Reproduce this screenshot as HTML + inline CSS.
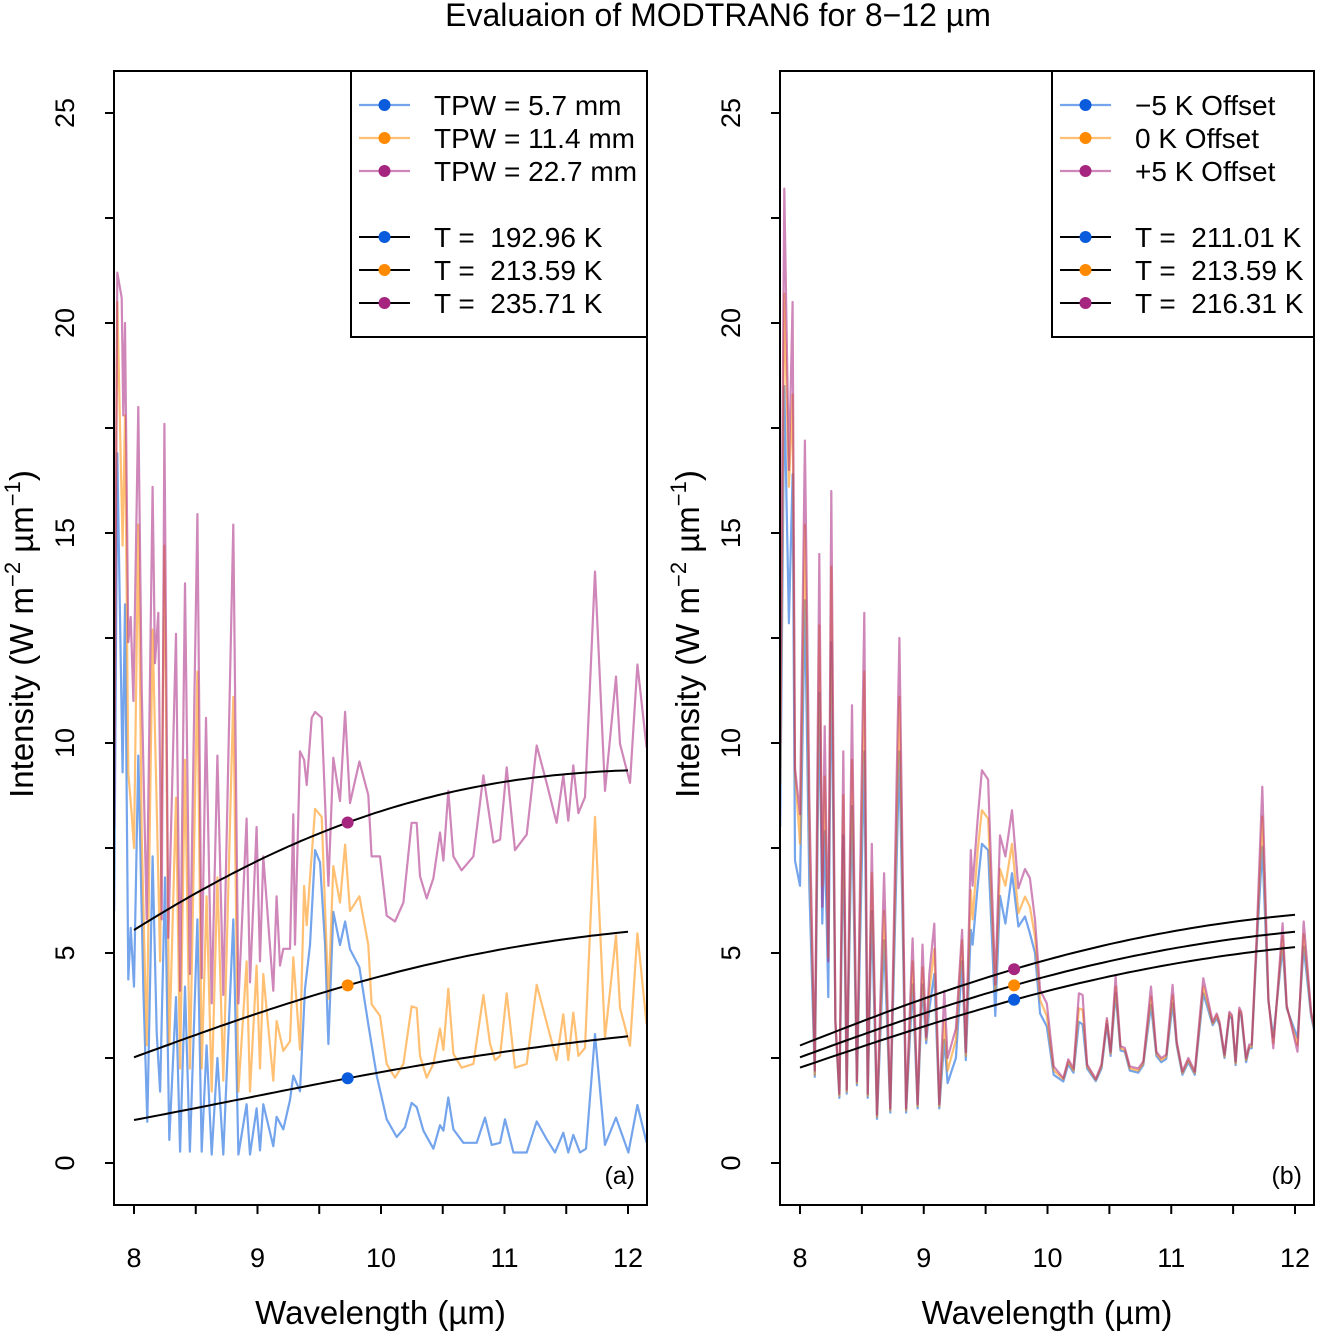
<!DOCTYPE html>
<html><head><meta charset="utf-8">
<style>
html,body{margin:0;padding:0;background:#fff;}
svg{display:block;font-family:"Liberation Sans",Arial,sans-serif;}
</style></head>
<body>
<svg id="chart" width="1317" height="1333" viewBox="0 0 1317 1333" xmlns="http://www.w3.org/2000/svg">
<text x="718" y="26" font-size="32" text-anchor="middle">Evaluaion of MODTRAN6 for 8−12 µm</text>
<defs>
<clipPath id="clipA"><rect x="114" y="71" width="533" height="1134"/></clipPath>
<clipPath id="clipB"><rect x="780" y="71" width="534" height="1134"/></clipPath>
</defs>
<g id="panelA"></g>
<g id="panelB"></g>
</svg>
<script>
// ---- Panel (a) data ----
const wlA_blue = [7.84,7.865,7.908,7.927,7.954,7.973,8.0,8.035,8.076,8.108,8.151,8.184,8.211,8.251,8.286,8.34,8.373,8.413,8.453,8.513,8.548,8.588,8.629,8.675,8.723,8.804,8.845,8.912,8.939,8.993,9.02,9.047,9.128,9.155,9.209,9.263,9.29,9.344,9.385,9.425,9.466,9.506,9.547,9.574,9.614,9.668,9.709,9.749,9.825,9.897,9.965,10.046,10.127,10.194,10.248,10.289,10.343,10.424,10.478,10.505,10.545,10.586,10.667,10.775,10.842,10.896,10.964,11.004,11.072,11.18,11.261,11.341,11.409,11.476,11.517,11.557,11.611,11.66,11.733,11.814,11.903,12.003,12.076,12.151];
const valA_blue = [6,16.9,9.3,13.3,4.37,5.6,4.2,9.7,4.1,0.98,7.3,3.1,1.7,6.8,0.55,3.95,0.27,4.2,0.27,5.8,0.27,2.8,0.2,2.5,0.2,5.8,0.2,1.4,0.2,1.3,0.3,1.4,0.4,1.1,0.8,1.5,2.08,1.71,4.15,5.19,7.45,7.16,5.19,2.83,5.98,5.19,5.75,5.09,4.66,3.3,2.08,1.04,0.62,0.85,1.43,1.33,0.77,0.34,0.9,0.77,1.56,0.8,0.48,0.48,1.08,0.43,0.48,1.04,0.25,0.25,0.99,0.57,0.25,0.72,0.25,0.67,0.25,0.34,3.07,0.43,1.08,0.25,1.38,0.48];
const wlA_orange = [7.84,7.865,7.908,7.927,7.954,7.981,8.0,8.035,8.062,8.103,8.151,8.184,8.211,8.246,8.286,8.34,8.373,8.413,8.453,8.513,8.548,8.588,8.629,8.675,8.723,8.804,8.845,8.912,8.939,8.993,9.02,9.047,9.128,9.155,9.209,9.263,9.29,9.344,9.377,9.398,9.425,9.466,9.52,9.574,9.614,9.668,9.709,9.749,9.825,9.897,9.924,9.992,10.046,10.113,10.181,10.248,10.289,10.316,10.37,10.424,10.478,10.505,10.545,10.586,10.653,10.748,10.829,10.883,10.923,10.964,11.018,11.085,11.18,11.261,11.341,11.422,11.476,11.517,11.557,11.598,11.652,11.733,11.814,11.903,11.935,12.016,12.076,12.151];
const valA_orange = [10,20.5,14.7,17.8,9.3,8.3,7.5,15.2,7.8,2.8,12.7,8.5,4.8,14.7,2.8,8.7,2.25,9.6,2.25,11.7,2.25,6.35,1.7,6.8,1.96,11.1,1.7,4.8,1.7,4.7,2.25,4.5,1.96,3.38,2.67,2.9,4.9,2.7,6.6,5.66,6.78,8.43,8.24,3.91,7.07,6.2,7.58,6.0,6.35,5.19,3.78,3.5,2.36,2.03,2.36,3.73,3.69,2.55,2.03,2.36,3.2,2.69,4.15,2.6,2.27,2.36,4.0,2.83,2.45,2.55,4.04,2.27,2.36,4.24,3.35,2.45,3.54,2.45,3.58,2.55,2.74,8.24,2.98,5.42,3.69,2.79,5.47,3.3];
const wlA_pink = [7.84,7.865,7.9,7.913,7.927,7.954,7.973,7.995,8.035,8.062,8.103,8.151,8.17,8.197,8.224,8.246,8.278,8.34,8.373,8.413,8.453,8.513,8.548,8.583,8.629,8.675,8.723,8.804,8.845,8.912,8.939,8.993,9.02,9.047,9.128,9.155,9.182,9.209,9.263,9.29,9.304,9.344,9.377,9.398,9.439,9.466,9.52,9.574,9.614,9.668,9.709,9.749,9.825,9.897,9.924,9.992,10.046,10.113,10.181,10.248,10.289,10.316,10.37,10.424,10.478,10.505,10.545,10.586,10.653,10.748,10.829,10.883,10.91,10.964,11.018,11.085,11.18,11.261,11.341,11.422,11.476,11.517,11.557,11.598,11.652,11.733,11.814,11.903,11.935,12.016,12.076,12.151];
const valA_pink = [8,21.2,20.6,17.8,20.0,12.4,13.0,11.0,18.0,11.3,5.8,16.1,11.9,13.1,5.8,17.6,5.36,12.6,4.1,13.8,4.5,15.45,4.4,10.6,3.8,9.7,4.0,15.2,3.8,8.2,4.3,8.0,4.8,7.3,4.1,6.35,4.7,5.1,5.1,8.3,5.2,9.8,9.6,9.0,10.6,10.74,10.6,6.6,9.65,8.62,10.74,8.57,9.56,8.76,7.3,7.3,5.89,5.75,6.2,8.1,8.1,6.83,6.3,6.78,7.87,7.2,8.86,7.3,6.97,7.3,9.23,8.15,7.63,7.7,9.42,7.45,7.82,9.94,9.05,8.1,9.23,8.15,9.47,8.33,8.71,14.08,8.86,11.58,9.98,9.05,11.87,9.89];
const tempsA = [192.96,213.59,235.71];
const legendA = ["TPW = 5.7 mm","TPW = 11.4 mm","TPW = 22.7 mm"];

// ---- Panel (b) data ----
const wlB = [7.84,7.873,7.91,7.94,7.96,8.0,8.04,8.075,8.12,8.156,8.18,8.2,8.229,8.253,8.286,8.318,8.35,8.377,8.42,8.46,8.52,8.547,8.58,8.622,8.68,8.73,8.803,8.857,8.91,8.95,8.99,9.02,9.045,9.085,9.126,9.166,9.193,9.26,9.31,9.34,9.38,9.395,9.436,9.47,9.52,9.578,9.616,9.66,9.713,9.765,9.818,9.858,9.899,9.94,9.994,10.05,10.128,10.168,10.21,10.254,10.284,10.32,10.39,10.436,10.48,10.51,10.55,10.59,10.625,10.665,10.733,10.774,10.836,10.88,10.92,10.96,11.011,11.044,11.09,11.138,11.19,11.259,11.335,11.367,11.39,11.43,11.47,11.49,11.52,11.55,11.566,11.605,11.63,11.65,11.69,11.736,11.785,11.825,11.9,11.933,12.02,12.07,12.13,12.17];
const valB_blue = [8,18.5,12.85,16.4,7.2,6.6,13.4,6.6,2.05,11.2,5.7,7.9,3.95,12.4,3.3,1.55,7.8,1.65,8.5,1.85,9.8,1.55,6.0,1.05,5.3,1.2,9.8,1.2,4.25,1.3,4.25,2.85,3.67,4.5,1.3,2.93,1.9,2.5,4.8,2.45,5.55,5.2,6.6,7.6,7.45,3.5,6.36,5.7,6.9,5.63,5.87,5.47,5.0,3.56,3.25,2.1,1.94,2.35,2.15,3.36,3.3,2.25,1.95,2.25,3.3,2.55,4.04,2.68,2.65,2.2,2.15,2.33,3.76,2.55,2.4,2.48,3.8,2.8,2.1,2.4,2.1,4.04,3.28,3.45,3.28,2.5,3.5,3.43,2.33,3.58,3.5,2.4,2.73,2.73,5.1,7.53,3.85,3.0,5.15,3.68,2.98,5.15,3.5,2.95];
const valB_orange = [9,20.7,16.1,18.3,9.3,7.6,15.2,8.0,2.1,12.8,6.6,9.2,4.9,14.2,3.37,1.6,8.76,1.7,9.6,1.9,11.7,1.6,6.9,1.1,6.0,1.25,11.1,1.25,4.8,1.35,4.66,2.93,4.1,5.1,1.35,3.37,2.2,2.93,5.3,2.55,6.5,5.8,7.45,8.4,8.2,4.1,7.0,6.6,7.6,5.95,6.34,6.1,5.39,3.88,3.5,2.2,2.0,2.42,2.2,3.68,3.65,2.3,1.98,2.3,3.4,2.6,4.2,2.73,2.69,2.25,2.2,2.37,3.96,2.6,2.45,2.53,4.0,2.85,2.14,2.45,2.14,4.2,3.32,3.52,3.32,2.53,3.56,3.48,2.37,3.64,3.56,2.45,2.77,2.77,5.23,8.25,3.88,2.85,5.4,3.72,2.8,5.45,3.56,3.0];
const valB_pink = [10,23.2,16.5,20.5,9.4,8.3,17.2,8.76,2.2,14.5,6.1,10.4,4.8,16.0,3.4,1.65,9.8,1.75,10.9,1.95,13.1,1.65,7.6,1.15,6.9,1.3,12.5,1.3,5.35,1.4,5.2,3.0,4.5,5.7,1.4,4.1,2.5,3.2,5.55,2.64,7.45,6.6,8.2,9.35,9.13,4.25,7.8,7.3,8.4,6.54,7.0,6.78,5.79,4.12,3.8,2.3,2.02,2.47,2.25,4.04,4.0,2.35,2.0,2.35,3.45,2.65,4.44,2.78,2.74,2.3,2.25,2.42,4.2,2.65,2.5,2.58,4.24,2.9,2.18,2.5,2.18,4.4,3.36,3.56,3.36,2.58,3.6,3.52,2.42,3.7,3.6,2.5,2.82,2.82,5.35,8.96,3.92,2.73,5.71,3.76,2.65,5.75,3.6,3.05];
const tempsB = [211.01,213.59,216.31];
const legendB = ["−5 K Offset","0 K Offset","+5 K Offset"];

const yTicks = [0,5,10,15,20,25];
const xTicks = [8,9,10,11,12];
const dotWl = 9.73;

const NS = "http://www.w3.org/2000/svg";
const lineCols = ["rgba(0,90,220,0.55)","rgba(255,140,0,0.55)","rgba(168,34,127,0.55)"];
const dotCols = ["#0a5cdc","#ff8a00","#a5257f"];

function el(tag, attrs, parent){
  const e = document.createElementNS(NS, tag);
  for (const k in attrs) e.setAttribute(k, attrs[k]);
  parent.appendChild(e);
  return e;
}
function planck(lam, T){ return Math.PI * 1.19104e8 / Math.pow(lam,5) / (Math.exp(14387.77/(lam*T)) - 1); }

function drawPanel(g, box, x8, x12, clipId, series, temps, labels, legBox, panelLabel){
  const xS = v => x8 + (v-8)*(x12-x8)/4;
  const yS = v => 1163 - v*42;
  const sg = el('g', {'clip-path':'url(#'+clipId+')'}, g);
  series.forEach((s,i)=>{
    const p = el('polyline', {points: s.wl.map((w,j)=>xS(w).toFixed(1)+','+yS(s.v[j]).toFixed(1)).join(' '), fill:'none', stroke: lineCols[i], 'stroke-width':2.2, 'stroke-linejoin':'round'}, sg);
    
    
  });
  temps.forEach((T,i)=>{
    const pts=[];
    for(let k=0;k<=80;k++){ const l=8+k*4/80; pts.push(xS(l).toFixed(1)+','+yS(planck(l,T)).toFixed(1)); }
    const c = el('polyline', {points: pts.join(' '), fill:'none', stroke:'#000', 'stroke-width':2}, g);
    
    
    const d = el('circle', {cx:xS(dotWl), cy:yS(planck(dotWl,T)), r:6, fill:dotCols[i]}, g);
    
    
  });
  const f = el('rect', {x:box[0], y:box[1], width:box[2]-box[0], height:box[3]-box[1], fill:'none', stroke:'#000', 'stroke-width':2}, g);
  
  
  for(let t=8;t<=12.001;t+=0.5){
    const tk = el('line', {x1:xS(t), x2:xS(t), y1:box[3], y2:box[3]+9, stroke:'#000','stroke-width':2}, g);
    
    
  }
  xTicks.forEach(t=>{
    const tx = el('text', {x:xS(t), y:1267, 'font-size':27, 'text-anchor':'middle'}, g);
    tx.textContent = t;
    
    
  });
  for(let t=0;t<=25;t+=2.5){
    const tk = el('line', {x1:box[0]-9, x2:box[0], y1:yS(t), y2:yS(t), stroke:'#000','stroke-width':2}, g);
    
    
  }
  yTicks.forEach(t=>{
    const tx = el('text', {x:0, y:0, 'font-size':27, 'text-anchor':'middle', transform:'translate('+(box[0]-40)+','+yS(t)+') rotate(-90)'}, g);
    tx.textContent = t;
    
    
  });
  const xt = el('text', {x:(box[0]+box[2])/2, y:1324, 'font-size':33, 'text-anchor':'middle'}, g);
  xt.textContent = 'Wavelength (µm)';
  
  
  const yt = el('text', {x:0, y:0, 'font-size':33, 'text-anchor':'middle', transform:'translate('+(box[0]-81)+',634) rotate(-90)'}, g);
  yt.innerHTML = 'Intensity (W m<tspan dy="-13" font-size="22">−2</tspan><tspan dy="13"> µm</tspan><tspan dy="-13" font-size="22">−1</tspan><tspan dy="13">)</tspan>';
  
  
  const pl = el('text', {x:box[2]-12, y:1184, 'font-size':25, 'text-anchor':'end'}, g);
  pl.textContent = panelLabel;
  
  
  const lg = el('g', {}, g);
  
  
  el('rect', {x:legBox[0], y:71, width:legBox[1]-legBox[0], height:266, fill:'#fff', stroke:'#000','stroke-width':2}, lg);
  const lx1 = legBox[0]+8, lx2 = legBox[0]+59, tx0 = legBox[0]+83;
  labels.forEach((lab,i)=>{
    const y = 105 + i*33;
    el('line', {x1:lx1, x2:lx2, y1:y, y2:y, stroke:lineCols[i], 'stroke-width':2.2}, lg);
    el('circle', {cx:(lx1+lx2)/2, cy:y, r:6, fill:dotCols[i]}, lg);
    const t = el('text', {x:tx0, y:y+10, 'font-size':28}, lg);
    t.textContent = lab;
    
    
  });
  temps.forEach((T,i)=>{
    const y = 237 + i*33;
    el('line', {x1:lx1, x2:lx2, y1:y, y2:y, stroke:'#000', 'stroke-width':2}, lg);
    el('circle', {cx:(lx1+lx2)/2, cy:y, r:6, fill:dotCols[i]}, lg);
    const t = el('text', {x:tx0, y:y+10, 'font-size':28}, lg);
    t.textContent = 'T =  ' + T.toFixed(2) + ' K';
    t.style.whiteSpace = 'pre';
    
    
  });
}

drawPanel(document.getElementById('panelA'), [114,71,647,1205], 134, 628, 'clipA',
  [{wl:wlA_blue, v:valA_blue},{wl:wlA_orange, v:valA_orange},{wl:wlA_pink, v:valA_pink}],
  tempsA, legendA, [351,647], '(a)');
drawPanel(document.getElementById('panelB'), [780,71,1314,1205], 800, 1295, 'clipB',
  [{wl:wlB, v:valB_blue},{wl:wlB, v:valB_orange},{wl:wlB, v:valB_pink}],
  tempsB, legendB, [1052,1314], '(b)');
</script>
</body></html>
